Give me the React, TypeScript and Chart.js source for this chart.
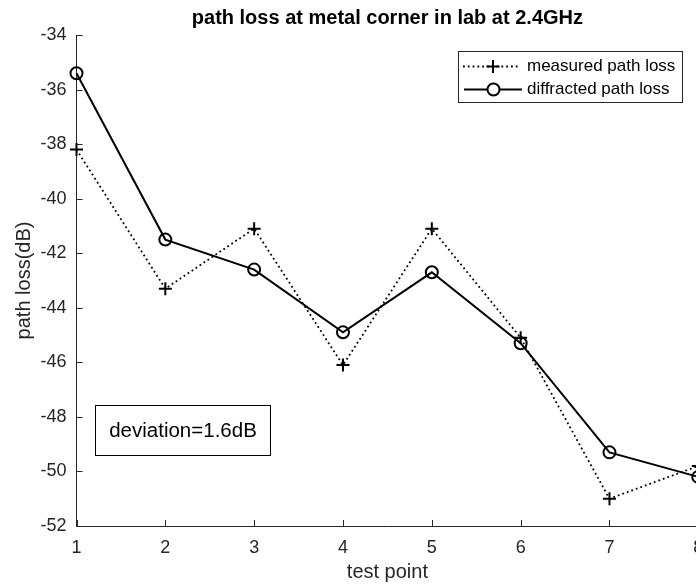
import React, { useEffect, useRef } from "react";
import { Chart, registerables } from "chart.js";

Chart.register(...registerables);

const testPoints = [1, 2, 3, 4, 5, 6, 7, 8];
const measuredLoss = [-38.2, -43.3, -41.1, -46.1, -41.1, -45.1, -51.0, -49.8];
const diffractedLoss = [-35.4, -41.5, -42.6, -44.9, -42.7, -45.3, -49.3, -50.2];
const yTickValues = [-52, -50, -48, -46, -44, -42, -40, -38, -36, -34];
const xTickValues = [1, 2, 3, 4, 5, 6, 7, 8];
const titleText = "path loss at metal corner in lab at 2.4GHz";
const xAxisLabel = "test point";
const yAxisLabel = "path loss(dB)";
const legendLabels = ["measured path loss", "diffracted path loss"];
const annotationText = "deviation=1.6dB";

const FONT = '"Liberation Sans", Arial, Helvetica, sans-serif';
const AXIS_COLOR = "#262626";

const decorPlugin = {
  id: "decor",
  afterDraw(chart: any) {
    const ctx: CanvasRenderingContext2D = chart.ctx;
    const area = chart.chartArea;
    const xs = chart.scales.x;
    const ys = chart.scales.y;
    ctx.save();
    // inward tick marks
    ctx.strokeStyle = AXIS_COLOR;
    ctx.lineWidth = 1;
    ctx.beginPath();
    yTickValues.forEach((v) => {
      const py = Math.round(ys.getPixelForValue(v)) + 0.5;
      ctx.moveTo(area.left, py);
      ctx.lineTo(area.left + 6, py);
    });
    xTickValues.forEach((v) => {
      const px = Math.round(xs.getPixelForValue(v)) + 0.5;
      ctx.moveTo(px, area.bottom);
      ctx.lineTo(px, area.bottom - 6);
    });
    ctx.stroke();

    // title
    ctx.fillStyle = "#000";
    ctx.font = `bold 20px ${FONT}`;
    ctx.textAlign = "center";
    ctx.textBaseline = "middle";
    ctx.fillText(titleText, (area.left + area.right) / 2, 18);

    // legend box
    const lx = 458.5, ly = 51.5, lw = 224, lh = 51;
    ctx.fillStyle = "#fff";
    ctx.fillRect(lx, ly, lw, lh);
    ctx.strokeStyle = AXIS_COLOR;
    ctx.lineWidth = 1;
    ctx.strokeRect(lx, ly, lw, lh);

    const row1 = 66.5, row2 = 89.5;
    // entry 1: dotted + plus
    ctx.strokeStyle = "#000";
    ctx.lineWidth = 1.8;
    ctx.setLineDash([1.8, 3]);
    ctx.beginPath();
    ctx.moveTo(463, row1);
    ctx.lineTo(519, row1);
    ctx.stroke();
    ctx.setLineDash([]);
    ctx.lineWidth = 2;
    ctx.beginPath();
    ctx.moveTo(493 - 6.5, row1);
    ctx.lineTo(493 + 6.5, row1);
    ctx.moveTo(493, row1 - 6.5);
    ctx.lineTo(493, row1 + 6.5);
    ctx.stroke();
    // entry 2: solid + circle
    ctx.beginPath();
    ctx.moveTo(464, row2);
    ctx.lineTo(522, row2);
    ctx.stroke();
    ctx.beginPath();
    ctx.arc(493.5, row2, 6, 0, Math.PI * 2);
    ctx.fillStyle = "#fff";
    ctx.fill();
    ctx.stroke();

    ctx.fillStyle = "#000";
    ctx.font = `17px ${FONT}`;
    ctx.textAlign = "left";
    ctx.textBaseline = "middle";
    ctx.fillText(legendLabels[0], 527, row1);
    ctx.fillText(legendLabels[1], 527, row2);

    // annotation box
    ctx.strokeStyle = "#000";
    ctx.lineWidth = 1;
    ctx.strokeRect(95.5, 405.5, 175, 50);
    ctx.font = `20.5px ${FONT}`;
    ctx.textAlign = "center";
    ctx.fillText(annotationText, 183, 431);
    ctx.restore();
  },
};

export default function App() {
  const canvasRef = useRef<HTMLCanvasElement | null>(null);

  useEffect(() => {
    const canvas = canvasRef.current;
    if (!canvas) return;
    const chart = new Chart(canvas, {
      type: "line",
      data: {
        datasets: [
          {
            label: legendLabels[0],
            data: testPoints.map((x, i) => ({ x, y: measuredLoss[i] })),
            borderColor: "#000",
            borderWidth: 1.8,
            borderDash: [1.8, 3],
            pointStyle: "cross",
            pointRadius: 6.5,
            pointBorderWidth: 2,
            pointBorderColor: "#000",
            pointBackgroundColor: "#000",
            tension: 0,
            fill: false,
            clip: false,
          },
          {
            label: legendLabels[1],
            data: testPoints.map((x, i) => ({ x, y: diffractedLoss[i] })),
            borderColor: "#000",
            borderWidth: 2,
            pointStyle: "circle",
            pointRadius: 6,
            pointBorderWidth: 2,
            pointBorderColor: "#000",
            pointBackgroundColor: "rgba(0,0,0,0)",
            tension: 0,
            fill: false,
            clip: false,
          },
        ],
      },
      options: {
        animation: false,
        responsive: false,
        devicePixelRatio: 1,
        layout: { padding: { top: 35, right: 21.7, left: 0, bottom: 0 } },
        plugins: {
          legend: { display: false },
          title: { display: false },
          tooltip: { enabled: false },
        },
        scales: {
          x: {
            type: "linear",
            min: 1,
            max: 8,
            afterFit: (s: any) => {
              s.height = 61;
            },
            afterBuildTicks: (s: any) => {
              s.ticks = xTickValues.map((v) => ({ value: v }));
            },
            ticks: {
              color: AXIS_COLOR,
              font: { family: FONT, size: 18 },
              padding: 11,
              maxRotation: 0,
              autoSkip: false,
            },
            grid: { display: false, drawTicks: false },
            border: { display: true, color: AXIS_COLOR, width: 1 },
            title: {
              display: true,
              text: xAxisLabel,
              color: AXIS_COLOR,
              font: { family: FONT, size: 20 },
              padding: { top: 0, bottom: 3 },
            },
          },
          y: {
            type: "linear",
            min: -52,
            max: -34,
            afterFit: (s: any) => {
              s.width = 76.5;
            },
            afterBuildTicks: (s: any) => {
              s.ticks = yTickValues.map((v) => ({ value: v }));
            },
            ticks: {
              color: AXIS_COLOR,
              font: { family: FONT, size: 18 },
              padding: 10,
              autoSkip: false,
            },
            grid: { display: false, drawTicks: false },
            border: { display: true, color: AXIS_COLOR, width: 1 },
            title: {
              display: true,
              text: yAxisLabel,
              color: AXIS_COLOR,
              font: { family: FONT, size: 20 },
              padding: { top: 12, bottom: 0 },
            },
          },
        },
      },
      plugins: [decorPlugin],
    });
    return () => chart.destroy();
  }, []);

  return (
    <div
      style={{
        position: "fixed",
        left: 0,
        top: 0,
        width: 696,
        height: 587,
        overflow: "hidden",
        background: "#fff",
      }}
    >
      <canvas ref={canvasRef} width={720} height={587} style={{ display: "block" }} />
    </div>
  );
}
